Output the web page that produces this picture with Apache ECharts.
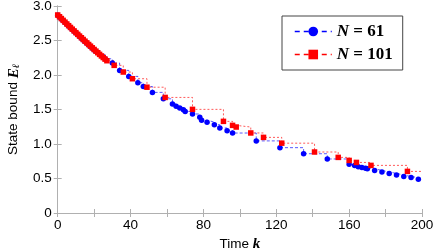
<!DOCTYPE html>
<html><head><meta charset="utf-8">
<script src="https://cdn.jsdelivr.net/npm/echarts@6/dist/echarts.min.js"></script>
<style>html,body{margin:0;padding:0;background:#fff}#c{width:436px;height:251px}</style>
</head><body><div id="c"></div>
<script>
// N = 61 series (time k, state bound)
const blueK = [0,1,2,3,4,5,6,7,8,9,10,11,12,13,14,15,16,17,18,19,20,21,23,26,30,34,39,44,47,52,58,63,65,67,69,70,74,78,79,82,86,89,93,96,109,122,135,148,160,163,165,167,169,170,174,178,182,186,190,194,198];
const blueV = [2.865,2.839,2.813,2.787,2.761,2.735,2.709,2.684,2.658,2.633,2.608,2.583,2.558,2.533,2.508,2.483,2.459,2.435,2.411,2.387,2.364,2.341,2.296,2.235,2.174,2.067,1.98,1.888,1.833,1.748,1.655,1.58,1.548,1.522,1.497,1.472,1.435,1.386,1.345,1.317,1.28,1.232,1.193,1.159,1.045,0.947,0.859,0.783,0.707,0.688,0.672,0.661,0.648,0.642,0.617,0.594,0.574,0.551,0.528,0.514,0.490];
// N = 101 series
const redK = [0,1,2,3,4,5,6,7,8,9,10,11,12,13,14,15,16,17,18,19,20,21,22,23,24,25,26,27,31,36,41,49,59,74,91,96,98,106,113,123,141,154,160,164,172,192,200];
const redV = [2.870,2.844,2.818,2.792,2.766,2.740,2.715,2.689,2.664,2.639,2.614,2.589,2.564,2.540,2.515,2.490,2.466,2.442,2.418,2.394,2.370,2.346,2.323,2.299,2.276,2.253,2.230,2.207,2.140,2.043,1.946,1.823,1.675,1.502,1.328,1.270,1.246,1.160,1.096,1.012,0.884,0.806,0.762,0.733,0.690,0.603,0.603];
const xTickLabels = {0:'0',40:'40',80:'80',120:'120',160:'160',200:'200'};
const yTickLabels = {0:'0',0.5:'0.5',1:'1.0',1.5:'1.5',2:'2.0',2.5:'2.5',3:'3.0'};

const blueData = blueK.map((k,i)=>[k,blueV[i]]);
const redData = redK.map((k,i)=> i===redK.length-1 ? {value:[k,redV[i]],symbol:'none'} : [k,redV[i]]);

const chart = echarts.init(document.getElementById('c'), null, {renderer:'canvas'});
const axisCol = '#b0b0b0';
const lblFont = 'Liberation Sans, Arial, sans-serif';
chart.setOption({
  animation:false,
  grid:{left:57.7,right:14,top:6,bottom:38,containLabel:false,outerBoundsMode:'none'},
  legend:{
    orient:'vertical', left:282, top:16,
    padding:[7,10,7,12], itemGap:6, itemWidth:37, itemHeight:12,
    borderColor:'#444', borderWidth:1, backgroundColor:'#fff',
    lineStyle:{type:[5,4],width:1.5,opacity:1},
    formatter: n => '{i|N}{b| = ' + n.split('= ')[1] + '}',
    textStyle:{rich:{
      i:{fontFamily:'Liberation Serif, DejaVu Serif, serif',fontStyle:'italic',fontWeight:'bold',fontSize:17,color:'#000'},
      b:{fontFamily:'Liberation Serif, DejaVu Serif, serif',fontWeight:'bold',fontSize:17,color:'#000'}
    }}
  },
  xAxis:[{
    type:'value',min:0,max:200,interval:20,
    name:'{t|Time }{k|k}',nameLocation:'middle',nameGap:23,
    nameTextStyle:{rich:{t:{fontFamily:lblFont,fontSize:13.5,color:'#000'},k:{fontFamily:'Liberation Serif, serif',fontStyle:'italic',fontWeight:'bold',fontSize:15,color:'#000'}}},
    axisLine:{lineStyle:{color:axisCol,width:1}},
    axisTick:{inside:true,length:4,lineStyle:{color:axisCol}},
    axisLabel:{formatter:v=>xTickLabels[v]!==undefined?xTickLabels[v]:'',color:'#000',fontFamily:lblFont,fontSize:13.5,margin:5},
    splitLine:{show:false}
  },{
    type:'value',min:0,max:200,interval:20,position:'top',
    axisLine:{show:true,lineStyle:{color:axisCol,width:1}},
    axisTick:{inside:true,length:4,lineStyle:{color:axisCol}},
    axisLabel:{show:false},splitLine:{show:false}
  }],
  yAxis:[{
    type:'value',min:0,max:3,interval:0.5,
    name:'{t|State bound }{e|E}{s|ℓ}',nameLocation:'middle',nameGap:36,nameRotate:90,
    nameTextStyle:{rich:{t:{fontFamily:lblFont,fontSize:13.5,color:'#000'},e:{fontFamily:'Liberation Serif, serif',fontStyle:'italic',fontWeight:'bold',fontSize:15,color:'#000'},s:{fontFamily:'Liberation Serif, serif',fontStyle:'italic',fontWeight:'bold',fontSize:10,color:'#000',padding:[6,0,0,0]}}},
    axisLine:{show:true,lineStyle:{color:axisCol,width:1}},
    axisTick:{show:true,inside:true,length:4,lineStyle:{color:axisCol}},
    axisLabel:{formatter:v=>yTickLabels[v]!==undefined?yTickLabels[v]:'',color:'#000',fontFamily:lblFont,fontSize:13.5,margin:6},
    splitLine:{show:false}
  },{
    type:'value',min:0,max:3,interval:0.5,position:'right',
    axisLine:{show:true,lineStyle:{color:axisCol,width:1}},
    axisTick:{show:true,inside:true,length:4,lineStyle:{color:axisCol}},
    axisLabel:{show:false},splitLine:{show:false}
  }],
  series:[{
    name:'N = 61',type:'line',step:'end',data:blueData,
    symbol:'circle',symbolSize:5.5,
    itemStyle:{color:'#0000ff'},
    lineStyle:{color:'#0000ff',width:1,type:[3,2],opacity:0.65}
  },{
    name:'N = 101',type:'line',step:'end',data:redData,
    symbol:'rect',symbolSize:5.5,
    itemStyle:{color:'#ff0000'},
    lineStyle:{color:'#ff0000',width:1,type:[2,2],opacity:0.65}
  }]
});
</script></body></html>
